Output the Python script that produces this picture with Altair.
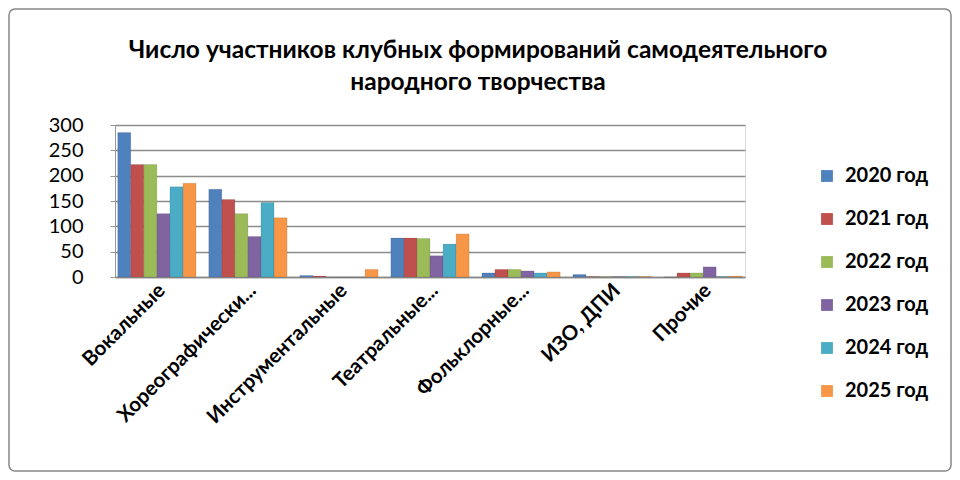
import altair as alt
import pandas as pd

categories = ["Вокальные", "Хореографически...", "Инструментальные", "Театральные...",
              "Фольклорные...", "ИЗО, ДПИ", "Прочие"]
years = ["2020 год", "2021 год", "2022 год", "2023 год", "2024 год", "2025 год"]
v2020 = [285, 173, 3, 77, 8, 5, 0]
v2021 = [222, 153, 2, 77, 15, 1, 8]
v2022 = [222, 125, 0, 76, 15, 1, 8]
v2023 = [125, 80, 0, 42, 12, 1, 20]
v2024 = [178, 147, 0, 65, 8, 1, 1]
v2025 = [185, 117, 15, 85, 10, 1, 2]
colors = ["#4F81BD", "#C0504D", "#9BBB59", "#8064A2", "#4BACC6", "#F79646"]
title_lines = ["Число участников клубных формирований самодеятельного", "народного творчества"]

series = [v2020, v2021, v2022, v2023, v2024, v2025]
rows = []
for y, vals in zip(years, series):
    for c, v in zip(categories, vals):
        rows.append({"cat": c, "year": y, "value": v})
df = pd.DataFrame(rows)

FONT = "Lato"

bars = alt.Chart(df).mark_bar(stroke="#00000033", strokeWidth=0.5).encode(
    x=alt.X("cat:N", sort=categories, title=None,
            scale=alt.Scale(paddingInner=0.14, paddingOuter=0.03),
            axis=alt.Axis(labelAngle=-45, labelAlign="right", labelBaseline="middle",
                          labelFontSize=20.5, labelFontWeight="bold", labelFont=FONT,
                          labelColor="#000", labelLimit=300, ticks=False, domain=True,
                          domainColor="#888", domainWidth=1.5, labelPadding=10,
                          labelOffset=5)),
    xOffset=alt.XOffset("year:N", sort=years),
    y=alt.Y("value:Q", title=None,
            scale=alt.Scale(domain=[0, 300]),
            axis=alt.Axis(values=[0, 50, 100, 150, 200, 250, 300], labelFontSize=20,
                          labelFont=FONT, labelColor="#000", labelPadding=27,
                          grid=True, gridColor="#8c8c8c", gridWidth=1.5,
                          domainColor="#999", tickColor="#999", tickSize=5)),
    color=alt.Color("year:N", sort=years, scale=alt.Scale(domain=years, range=colors),
                    legend=alt.Legend(title=None, orient="none", legendX=702, legendY=41,
                                      symbolType="square", symbolSize=140,
                                      symbolStrokeWidth=0, labelFontSize=20,
                                      labelFontWeight="bold", labelFont=FONT,
                                      labelColor="#000", rowPadding=23, labelOffset=8)),
)

border = alt.Chart(pd.DataFrame({"a": [0]})).mark_rect(
    fill=None, stroke="#868686", strokeWidth=1.5, cornerRadius=6, clip=False
).encode(x=alt.value(-106), x2=alt.value(836), y=alt.value(-116), y2=alt.value(346))

t1 = alt.Chart(pd.DataFrame({"t": [title_lines[0]]})).mark_text(
    font=FONT, fontSize=24.5, fontWeight="bold", color="#000", align="center",
    baseline="middle", clip=False
).encode(text="t:N", x=alt.value(363), y=alt.value(-74))
t2 = alt.Chart(pd.DataFrame({"t": [title_lines[1]]})).mark_text(
    font=FONT, fontSize=24.5, fontWeight="bold", color="#000", align="center",
    baseline="middle", clip=False
).encode(text="t:N", x=alt.value(363), y=alt.value(-42))

chart = alt.layer(border, bars, t1, t2).properties(
    width=630, height=152,
    autosize=alt.AutoSizeParams(type="none"),
    padding={"left": 107, "top": 117, "right": 207, "bottom": 195},
).configure_view(stroke=None).configure(background="white")

chart.save("out.html", embed_options={"renderer": "svg", "actions": False})
